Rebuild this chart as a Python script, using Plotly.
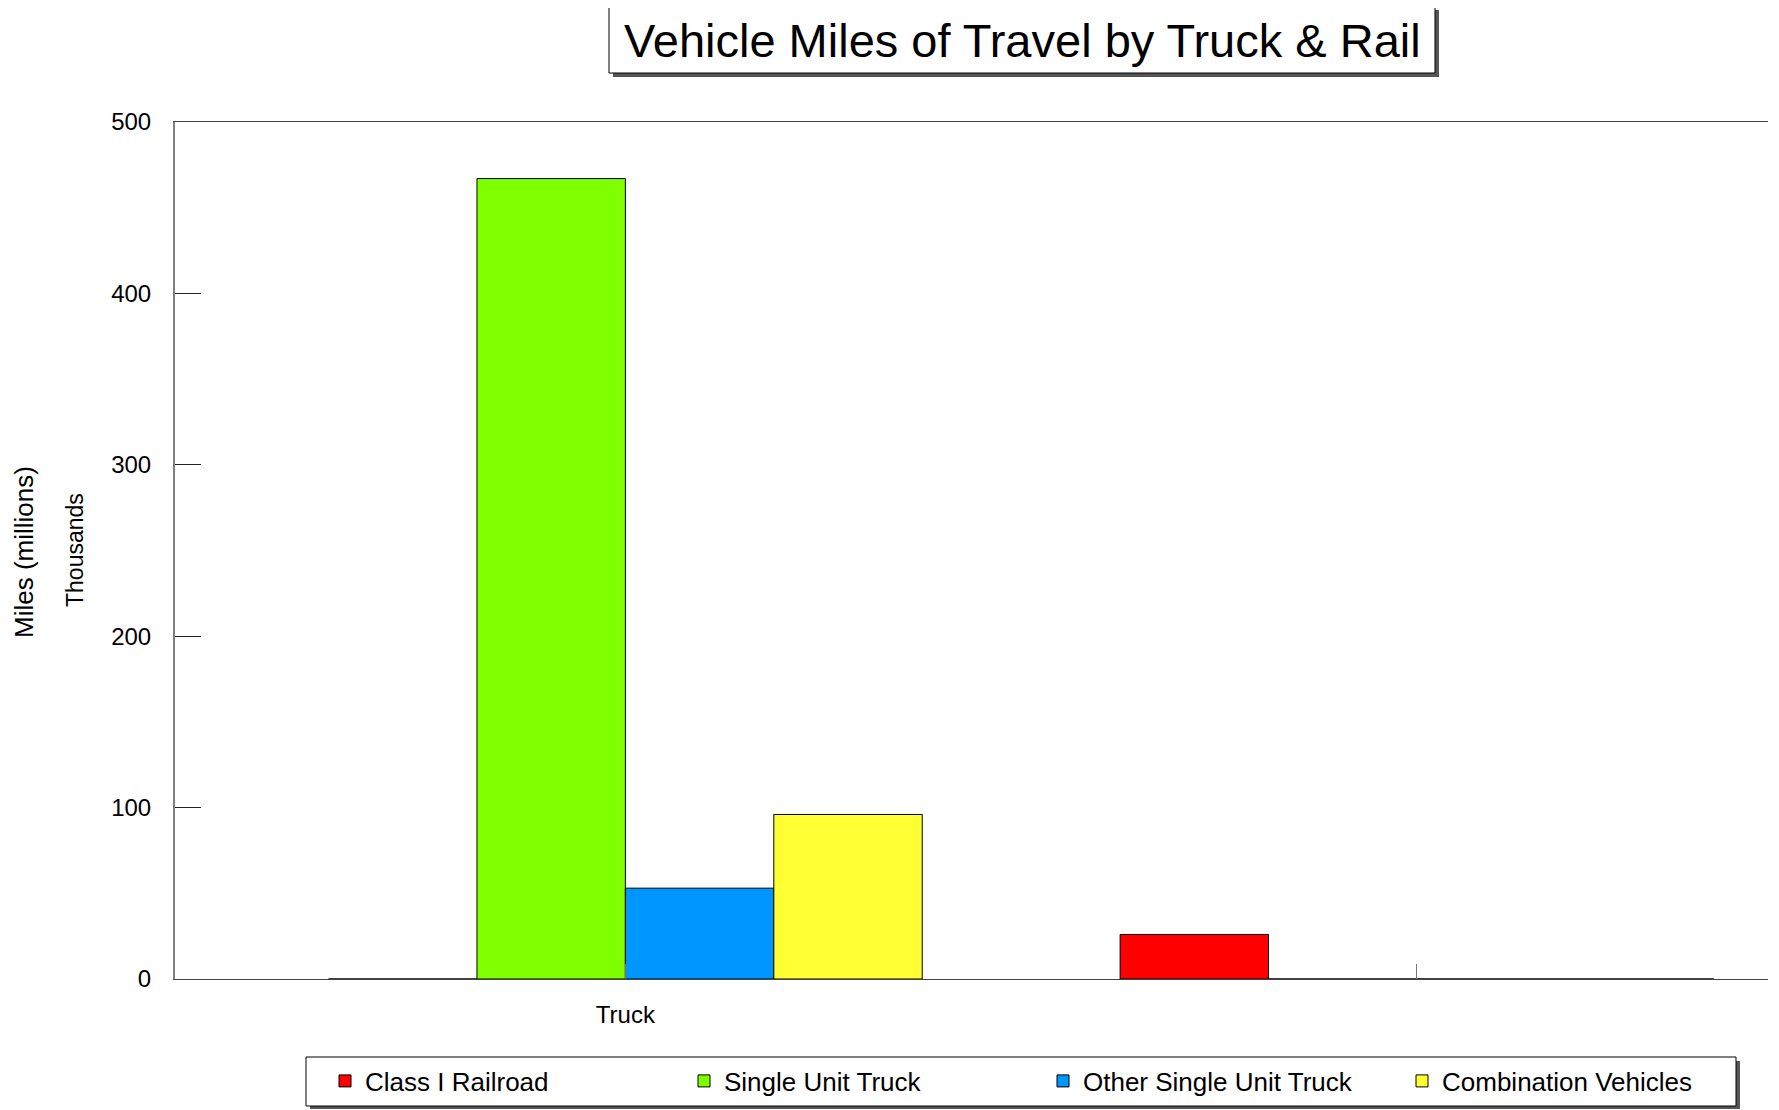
import plotly.graph_objs as go

# data
categories = [0, 1]
category_labels = ['Truck', '']
series_names = ['Class I Railroad', 'Single Unit Truck',
                'Other Single Unit Truck', 'Combination Vehicles']
class1_railroad = [0, 26]
single_unit_truck = [467, 0]
other_single_unit = [53, 0]
combination_vehicles = [96, 0]
y_ticks = [0, 100, 200, 300, 400, 500]

colors = ['#FF0000', '#80FF00', '#0096FF', '#FFFF33']
values = [class1_railroad, single_unit_truck, other_single_unit,
          combination_vehicles]

# page body has an 8px margin, so the figure is 8px smaller
OFF = 8
W, H = 1779 - OFF, 1110 - OFF
L, R, T, B = 175 - OFF, 11, 122 - OFF, 131
PW, PH = W - L - R, H - T - B
FONT = 'Liberation Sans, Arial, sans-serif'


def px(x):
    # page pixel -> paper
    return (x - OFF - L) / PW


def py(y):
    return (H - B - (y - OFF)) / PH


fig = go.Figure()
for name, vals, col in zip(series_names, values, colors):
    fig.add_trace(go.Bar(x=categories, y=vals, name=name,
                         marker=dict(color=col,
                                     line=dict(color='black', width=1))))

shapes = []
# title frame + shadow
shapes.append(dict(type='rect', xref='paper', yref='paper',
                   x0=px(613), x1=px(1439), y0=py(77), y1=py(10),
                   fillcolor='#555555', line=dict(width=0)))
shapes.append(dict(type='rect', xref='paper', yref='paper',
                   x0=px(609), x1=px(1435), y0=py(73), y1=py(6),
                   fillcolor='white', line=dict(color='black', width=1)))
# legend frame + shadow
shapes.append(dict(type='rect', xref='paper', yref='paper',
                   x0=px(310), x1=px(1740), y0=py(1109), y1=py(1061),
                   fillcolor='#555555', line=dict(width=0)))
shapes.append(dict(type='rect', xref='paper', yref='paper',
                   x0=px(306), x1=px(1736), y0=py(1106), y1=py(1057),
                   fillcolor='white', line=dict(color='black', width=1)))

fig.update_layout(
    width=W, height=H,
    margin=dict(l=L, r=R, t=T, b=B, pad=0, autoexpand=False),
    paper_bgcolor='white', plot_bgcolor='white',
    font=dict(family=FONT, color='black', size=24),
    barmode='group', bargap=0.25, bargroupgap=0,
    shapes=shapes,
    showlegend=True,
    legend=dict(orientation='h', x=px(325), xanchor='left',
                y=py(1081), yanchor='middle',
                entrywidth=314, entrywidthmode='pixels',
                bgcolor='rgba(0,0,0,0)', borderwidth=0,
                font=dict(size=26, family=FONT), traceorder='normal'),
    annotations=[
        dict(text='Vehicle Miles of Travel by Truck & Rail', xref='paper',
             yref='paper', x=px(1022), y=py(40), xanchor='center',
             yanchor='middle', showarrow=False,
             font=dict(size=47, family=FONT)),
        dict(text='Miles (millions)', xref='paper', yref='paper',
             x=px(24), y=py(552), textangle=-90, xanchor='center',
             yanchor='middle', showarrow=False, font=dict(size=26)),
        dict(text='Thousands', xref='paper', yref='paper',
             x=px(75), y=py(550), textangle=-90, xanchor='center',
             yanchor='middle', showarrow=False, font=dict(size=23)),
    ],
)

fig.update_xaxes(range=[-0.569, 1.4435], tickvals=categories,
                 ticktext=category_labels, ticks='inside', ticklen=15,
                 tickcolor='#777777', showline=True, linecolor='#444444',
                 linewidth=1, mirror=True, showgrid=False, zeroline=False,
                 ticklabelstandoff=14, tickfont=dict(size=24))
fig.update_yaxes(range=[0, 500], tickvals=y_ticks, ticks='inside',
                 ticklen=26, tickcolor='#222222', showline=True,
                 linecolor='#808080', linewidth=2, showgrid=False,
                 zeroline=False, ticklabelstandoff=17,
                 tickfont=dict(size=24))

fig.write_html('out.html')
